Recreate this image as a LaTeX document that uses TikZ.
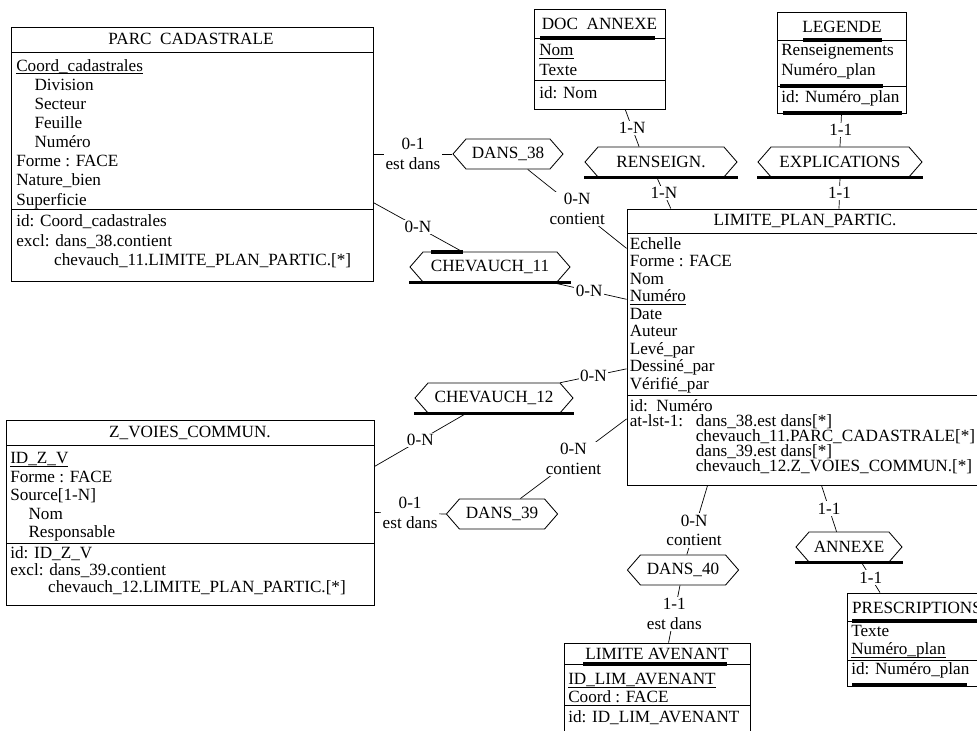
\documentclass[tikz,border=0pt]{standalone}
\usepackage{amsmath}
\usepackage{fontspec}
\setmainfont{Liberation Serif}
\usetikzlibrary{shapes.symbols, fit}

\begin{document}
\begin{tikzpicture}[x=0.25mm, y=-0.25mm,
  every node/.style={font=\fontsize{12.2}{14.2}\selectfont},
  entity/.style={draw, inner sep=0pt, line width=0.6pt},
  etitle/.style={inner sep=0pt},
  attrs/.style={align=left, anchor=west, inner sep=0pt,
                font=\fontsize{12.2}{#1}\selectfont},
  rel/.style={signal, signal to=east and west, signal pointer angle=98,
              draw, line width=0.6pt, minimum height=7.5mm, inner xsep=0pt},
  card/.style={fill=white, inner sep=1pt, align=center},
  link/.style={line width=0.5pt},
  heavy/.style={line width=2.2pt},
]
  \useasboundingbox (0,0) rectangle (977,731);

  % Entities
  \node[entity, fit={(11,27) (373,281)}] (parc) {};
  \node[etitle] (parc-t) at (191,39) {PARC\ \ CADASTRALE};
  \node[attrs=13.6] (parc-a) at (16,134) {\underline{\smash[b]{Coord\_cadastrales}}\\
    \hspace*{13pt}Division\\ \hspace*{13pt}Secteur\\ \hspace*{13pt}Feuille\\
    \hspace*{13pt}Numéro\\ Forme : FACE\\ Nature\_bien\\ Superficie};
  \node[attrs=13.9] (parc-i) at (16,241.5) {id: Coord\_cadastrales\\
    excl: dans\_38.contient\\ \hspace*{27pt}chevauch\_11.LIMITE\_PLAN\_PARTIC.[*]};
  \draw (11,52) -- (373,52);
  \draw (11,209) -- (373,209);

  \node[entity, fit={(534,9) (665,109)}] (docann) {};
  \node[etitle] (docann-t) at (599.5,24) {DOC\ \ ANNEXE};
  \node[attrs=14.2] (docann-a) at (539,60) {\underline{Nom}\\ Texte};
  \node[attrs=14.2] (docann-i) at (539,93) {id: Nom};
  \draw (534,38) -- (665,38);
  \draw (534,80) -- (665,80);

  \node[entity, fit={(777,12) (906,113)}] (legende) {};
  \node[etitle] (legende-t) at (842,27) {LEGENDE};
  \node[attrs=14.2] (legende-a) at (781,62) {Renseignements\\ Numéro\_plan};
  \node[attrs=14.2] (legende-i) at (781,98) {id: Numéro\_plan};
  \draw (777,40) -- (906,40);
  \draw (777,86) -- (906,86);

  \node[entity, fit={(627,209) (982,485)}] (limite) {};
  \node[etitle] (limite-t) at (805,221) {LIMITE\_PLAN\_PARTIC.};
  \node[attrs=12.45] (limite-a) at (629.5,315) {Echelle\\ Forme : FACE\\ Nom\\
    \underline{Numéro}\\ Date\\ Auteur\\ Levé\_par\\ Dessiné\_par\\ Vérifié\_par};
  \node[attrs=10.7] (limite-i) at (629.5,437) {id:\ \ Numéro\\
    \makebox[47pt][l]{at-lst-1:}dans\_38.est dans[*]\\
    \hspace*{47pt}chevauch\_11.PARC\_CADASTRALE[*]\\
    \hspace*{47pt}dans\_39.est dans[*]\\
    \hspace*{47pt}chevauch\_12.Z\_VOIES\_COMMUN.[*]};
  \draw (627,233) -- (982,233);
  \draw (627,395) -- (982,395);

  \node[entity, fit={(6,420) (374,605)}] (zvoies) {};
  \node[etitle] (zvoies-t) at (190,433) {Z\_VOIES\_COMMUN.};
  \node[attrs=13.2] (zvoies-a) at (10,497) {\underline{\smash[b]{ID\_Z\_V}}\\ Forme : FACE\\
    Source[1-N]\\ \hspace*{13pt}Nom\\ \hspace*{13pt}Responsable};
  \node[attrs=12.1] (zvoies-i) at (10,571) {id: ID\_Z\_V\\
    excl: dans\_39.contient\\ \hspace*{27pt}chevauch\_12.LIMITE\_PLAN\_PARTIC.[*]};
  \draw (6,445) -- (374,445);
  \draw (6,543) -- (374,543);

  \node[entity, fit={(564,643) (750,735)}] (avenant) {};
  \node[etitle] (avenant-t) at (657,654) {LIMITE AVENANT};
  \node[attrs=12.8] (avenant-a) at (568,688) {\underline{\smash[b]{ID\_LIM\_AVENANT}}\\ Coord : FACE};
  \node[attrs=12.8] (avenant-i) at (568,718) {id: ID\_LIM\_AVENANT};
  \draw (564,664) -- (750,664);
  \draw (564,705) -- (750,705);

  \node[entity, fit={(847,593) (989,686)}] (prescr) {};
  \node[etitle] (prescr-t) at (917,608) {PRESCRIPTIONS};
  \node[attrs=12.8] (prescr-a) at (851,642) {Texte\\ \underline{\smash[b]{Numéro\_plan}}};
  \node[attrs=12.8] (prescr-i) at (851,670) {id: Numéro\_plan};
  \draw (847,621) -- (989,621);
  \draw (847,660) -- (989,660);

  % Relationships
  \node[rel, minimum width=2.75cm] (dans38)   at (508,154) {DANS\_38};
  \node[rel, minimum width=3.8cm]  (renseign) at (661,162) {RENSEIGN.};
  \node[rel, minimum width=4.1cm]  (explic)   at (840,162) {EXPLICATIONS};
  \node[rel, minimum width=4cm]    (chev11)   at (490,267) {CHEVAUCH\_11};
  \node[rel, minimum width=3.95cm] (chev12)   at (494,398) {CHEVAUCH\_12};
  \node[rel, minimum width=2.78cm] (dans39)   at (502,514) {DANS\_39};
  \node[rel, minimum width=2.78cm] (dans40)   at (683,570) {DANS\_40};
  \node[rel, minimum width=2.65cm] (annexe)   at (849,547) {ANNEXE};

  % Heavy rules
  \foreach \r in {renseign, explic, chev11, chev12, annexe}
    \draw[heavy] (\r.west |- \r.south) -- (\r.east |- \r.south);
  \draw[heavy] (431,252) -- (463,252);
  \draw[heavy] (540,38) -- (655,38);
  \draw[heavy] (803,40) -- (882,40);
  \draw[heavy] (780,86) -- (883,86);
  \draw[heavy] (783,113) -- (902,113);
  \draw[heavy] (583,664) -- (727,664);
  \draw[heavy] (852,621) -- (977,621);
  \draw[heavy] (852,685) -- (967,685);

  % Links
  \draw[link] (parc.east)     -- node[card]{0-1\\est dans} (dans38.west);
  \draw[link] (dans38.-38)    -- node[card]{0-N\\contient} (limite.151);
  \draw[link] (docann.-63)    -- node[card]{1-N} (renseign.145);
  \draw[link] (renseign.-105) -- node[card]{1-N} (limite.134);
  \draw[link] (legende.south) -- node[card]{1-1} (explic.north);
  \draw[link] (explic.south)  -- node[card]{1-1} (limite.76);
  \draw[link] (parc.-15)      -- node[card]{0-N} (chev11.151);
  \draw[link] (chev11.-14)    -- node[card]{0-N} (limite.165);
  \draw[link] (chev12.13)     -- node[card]{0-N} (limite.-173);
  \draw[link] (zvoies.14)     -- node[card]{0-N} (chev12.-151);
  \draw[link] (zvoies.east)   -- node[card]{0-1\\est dans} (dans39.west);
  \draw[link] (dans39.40)     -- node[card]{0-N\\contient} (limite.-158);
  \draw[link] (limite.-125)   -- node[card, pos=0.65]{0-N\\contient} (dans40.76);
  \draw[link] (dans40.-101)   -- node[card]{1-1\\est dans} (avenant.76);
  \draw[link] (limite.-83)    -- node[card]{1-1} (annexe.129);
  \draw[link] (annexe.-51)    -- node[card]{1-1} (prescr.129);
\end{tikzpicture}
\end{document}
